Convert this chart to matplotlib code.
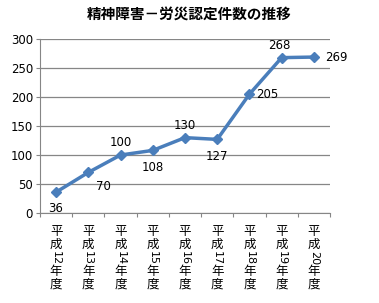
import matplotlib
matplotlib.use("Agg")
import matplotlib.pyplot as plt
import matplotlib.transforms as mtransforms

plt.rcParams['font.family'] = ['Noto Sans CJK JP', 'DejaVu Sans']

title = "精神障害－労災認定件数の推移"
years = ["12", "13", "14", "15", "16", "17", "18", "19", "20"]
values = [36, 70, 100, 108, 130, 127, 205, 268, 269]
label_offsets = [(0, -12), (11, -10), (0, 9), (0, -12), (0, 9), (0, -12), (13, 0), (-2, 9), (16, 0)]

fig = plt.figure(figsize=(3.79, 3.03), dpi=100)
ax = fig.add_axes([0.1055, 0.297, 0.7652, 0.574])

x = list(range(len(values)))
ax.plot(x, values, color="#4A7EBB", lw=2.5, marker="D", ms=5, mfc="#4A7EBB", mec="#4A7EBB", zorder=3)
for xi, v, off in zip(x, values, label_offsets):
    ax.annotate(str(v), (xi, v), xytext=off, textcoords="offset points",
                ha="center", va="center", fontsize=8.5, family=['DejaVu Sans'])

ax.set_xlim(-0.5, len(values) - 0.5)
ax.set_ylim(0, 300)
ax.set_yticks(range(0, 301, 50))
ax.yaxis.grid(True, color="#868686", lw=0.9)
ax.set_axisbelow(True)
ax.tick_params(axis='y', labelsize=8.5, length=3, color="#868686", pad=2)
for lbl in ax.get_yticklabels():
    lbl.set_family(['DejaVu Sans'])
ax.set_xticks([i - 0.5 for i in range(len(values) + 1)])
ax.set_xticklabels([])
ax.tick_params(axis='x', length=3, color="#868686")
for s in ["top", "right"]:
    ax.spines[s].set_visible(False)
for s in ["left", "bottom"]:
    ax.spines[s].set_color("#868686")

trans = mtransforms.blended_transform_factory(ax.transData, fig.transFigure)
def fy(py):
    return 1 - py / 303.0
for xi, yr in zip(x, years):
    ax.text(xi, fy(231), "平", transform=trans, ha="center", va="center", fontsize=9, clip_on=False)
    ax.text(xi, fy(244), "成", transform=trans, ha="center", va="center", fontsize=9, clip_on=False)
    ax.text(xi, fy(258), yr, transform=trans, ha="center", va="center", fontsize=8,
            rotation=-90, family=['DejaVu Sans'], clip_on=False)
    ax.text(xi, fy(271), "年", transform=trans, ha="center", va="center", fontsize=9, clip_on=False)
    ax.text(xi, fy(284), "度", transform=trans, ha="center", va="center", fontsize=9, clip_on=False)

fig.text(0.5, 1 - 14 / 303, title, ha="center", va="center", fontsize=10.5, fontweight="bold")

fig.savefig("out.png", dpi=100)
